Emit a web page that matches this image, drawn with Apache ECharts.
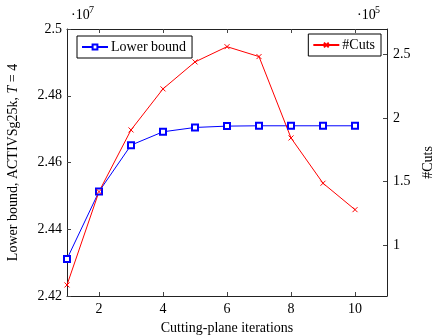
<!DOCTYPE html>
<html>
<head>
<meta charset="utf-8">
<script src="https://cdn.jsdelivr.net/npm/echarts@6/dist/echarts.min.js"></script>
<style>
  html, body { margin: 0; padding: 0; background: #fff; }
  #chart { width: 432px; height: 335px; }
</style>
</head>
<body>
<div id="chart"></div>
<script>
// data
var iterations = [1, 2, 3, 4, 5, 6, 7, 8, 9, 10];
var lowerBound = [24311000, 24513000, 24652000, 24692000, 24705000, 24709000, 24710000, 24710000, 24710000, 24710000];
var cuts = [68700, 142100, 190600, 222900, 244100, 256100, 248300, 184300, 148700, 127900];
var xTicks = [2, 4, 6, 8, 10];
var cutTicks = [100000, 150000, 200000, 250000];

var FONT = 'Liberation Serif';
var chart = echarts.init(document.getElementById('chart'));

function pairs(ys) {
  return iterations.map(function (x, i) { return [x, ys[i]]; });
}

var legendBase = {
  orient: 'horizontal',
  borderColor: '#000',
  borderWidth: 1,
  borderRadius: 0,
  padding: [4, 6, 4, 4],
  itemWidth: 26,
  itemHeight: 6,
  textStyle: { fontFamily: FONT, fontSize: 14, color: '#000', padding: [0, 0, 0, -2] }
};

function expLabel(x, p) {
  return [
    { type: 'text', left: x, top: 8, style: { text: '·10', fontFamily: FONT, fontSize: 14, fill: '#000' } },
    { type: 'text', left: x + 18, top: 5, style: { text: p, fontFamily: FONT, fontSize: 10, fill: '#000' } }
  ];
}

chart.setOption({
  animation: false,
  backgroundColor: '#fff',
  grid: { left: 67, right: 45, top: 29, bottom: 39, containLabel: false, outerBoundsMode: 'none' },
  legend: [
    Object.assign({}, legendBase, { data: ['Lower bound'], left: 77, top: 36 }),
    Object.assign({}, legendBase, { data: ['#Cuts'], right: 51, top: 34 })
  ],
  graphic: expLabel(71, '7').concat(expLabel(357, '5')),
  xAxis: [
    {
      type: 'value', min: 1, max: 11, position: 'bottom',
      name: 'Cutting-plane iterations', nameLocation: 'middle', nameGap: 23,
      nameTextStyle: { fontFamily: FONT, fontSize: 14, color: '#000' },
      axisLine: { show: true, lineStyle: { color: '#222', width: 1 } },
      axisTick: { inside: true, length: 4, customValues: xTicks, lineStyle: { color: '#444' } },
      axisLabel: { customValues: xTicks, margin: 6, fontFamily: FONT, fontSize: 14, color: '#000' },
      splitLine: { show: false }
    },
    {
      type: 'value', min: 1, max: 11, position: 'top',
      axisLine: { show: true, lineStyle: { color: '#222', width: 1 } },
      axisTick: { inside: true, length: 4, customValues: xTicks, lineStyle: { color: '#444' } },
      axisLabel: { show: false },
      splitLine: { show: false }
    }
  ],
  yAxis: [
    {
      type: 'value', min: 24200000, max: 25000000, interval: 200000, position: 'left',
      name: '{n|Lower bound, ACTIVSg25k, }{i|T}{n| = 4}', nameLocation: 'middle', nameGap: 47, nameRotate: 90,
      nameTextStyle: { rich: {
        n: { fontFamily: FONT, fontSize: 14, color: '#000' },
        i: { fontFamily: FONT, fontSize: 14, color: '#000', fontStyle: 'italic' } } },
      axisLine: { show: true, lineStyle: { color: '#222', width: 1 } },
      axisTick: { show: true, inside: true, length: 4, lineStyle: { color: '#444' } },
      axisLabel: { margin: 5, fontFamily: FONT, fontSize: 14, color: '#000',
        formatter: function (v) { return String(Math.round(v / 1e5) / 100); } },
      splitLine: { show: false }
    },
    {
      type: 'value', min: 60000, max: 270000, position: 'right',
      name: '#Cuts', nameLocation: 'middle', nameGap: 27, nameRotate: 90,
      nameTextStyle: { fontFamily: FONT, fontSize: 14, color: '#000' },
      axisLine: { show: true, lineStyle: { color: '#222', width: 1 } },
      axisTick: { inside: true, length: 4, customValues: cutTicks, lineStyle: { color: '#444' } },
      axisLabel: { customValues: cutTicks, margin: 6, fontFamily: FONT, fontSize: 14, color: '#000',
        formatter: function (v) { return String(v / 1e5); } },
      splitLine: { show: false }
    }
  ],
  series: [
    {
      name: 'Lower bound', type: 'line', xAxisIndex: 0, yAxisIndex: 0,
      data: pairs(lowerBound),
      symbol: 'emptyRect', symbolSize: 6,
      lineStyle: { color: '#0000ff', width: 1 },
      itemStyle: { color: '#0000ff', borderColor: '#0000ff', borderWidth: 1 }
    },
    {
      name: '#Cuts', type: 'line', xAxisIndex: 0, yAxisIndex: 1,
      data: pairs(cuts),
      symbol: 'path://M0,0L10,10M10,0L0,10', symbolSize: 5,
      lineStyle: { color: '#ff0000', width: 1 },
      itemStyle: { color: '#ff0000', borderColor: '#ff0000', borderWidth: 1 }
    }
  ]
});
</script>
</body>
</html>
